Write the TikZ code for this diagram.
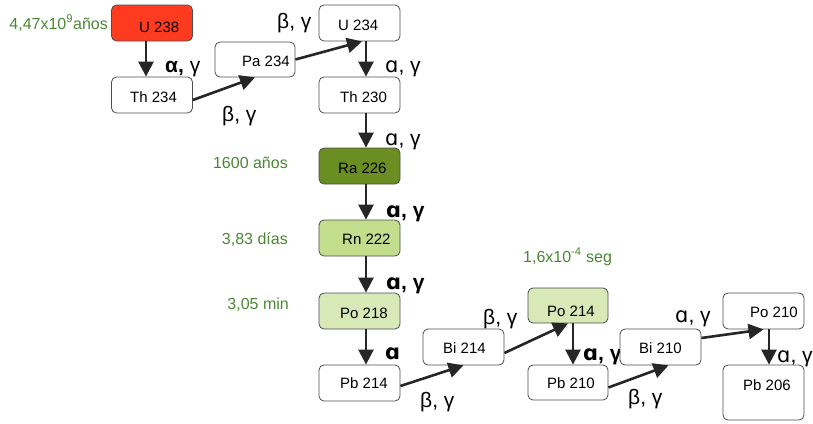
\documentclass[tikz,border=0pt]{standalone}
\usepackage{fontspec}
\setmainfont{Liberation Sans}
\newfontfamily\alphafont{DejaVu Sans}
\usetikzlibrary{arrows.meta,calc}
\definecolor{boxline}{HTML}{4D4D4D}
\definecolor{arrowgray}{HTML}{262626}
\definecolor{halflife}{HTML}{4A8734}
\definecolor{uranred}{HTML}{FF3B1F}
\definecolor{radiumgreen}{HTML}{6B8E23}
\definecolor{radongreen}{HTML}{C2DE8C}
\definecolor{palegreen}{HTML}{D6E9B6}
% Latin alpha taken from DejaVu Sans
\newcommand{\la}{{\alphafont ɑ}}
\begin{document}
\begin{tikzpicture}[x=1pt,y=-1pt,
  nuclide/.style={draw=boxline, line width=0.8pt, rounded corners=5pt, fill=white,
    inner sep=0pt, minimum width=81pt, minimum height=36pt},
  nuctext/.style={anchor=base west, inner sep=0pt, font=\fontsize{15}{18}\selectfont},
  decay/.style={anchor=base west, inner sep=0pt, font=\fontsize{21}{24}\selectfont},
  bolddecay/.style={decay, font=\fontsize{21}{24}\selectfont\bfseries},
  life/.style={inner sep=0pt, text=halflife, font=\fontsize{16}{19}\selectfont},
  chain/.style={draw=arrowgray, line width=2.6pt, -{Triangle[length=15pt,width=15pt]}}
]
\useasboundingbox (0,0) rectangle (813,423);

% decay mode labels (drawn first, boxes may overlap them)
\node[decay] (l1) at (165,72) {\textbf{α,} γ};
\node[decay] (l2) at (277,28) {β, γ};
\node[decay] (l3) at (222,121) {β, γ};
\node[decay] (l4) at (385,72) {\la, γ};
\node[decay] (l5) at (385,145) {\la, γ};
\node[bolddecay] (l6) at (386,217) {{\bfseries\la}, γ};
\node[bolddecay] (l7) at (386,289) {{\bfseries\la}, γ};
\node[bolddecay] (l8) at (385,359) {{\bfseries\la}};
\node[decay] (l9) at (420,407) {β, γ};
\node[decay] (l10) at (483,324) {β, γ};
\node[bolddecay] (l11) at (583,360) {{\bfseries\la}, γ};
\node[decay] (l12) at (628,404) {β, γ};
\node[decay] (l13) at (675,322) {\la, γ};
\node[decay] (l14) at (777,362) {\la, γ};

% half-lives
\node[life, anchor=base east] (h1) at (108,29) {4,47x10\textsuperscript{9}años};
\node[life, anchor=base east] (h2) at (288,168) {1600 años};
\node[life, anchor=base east] (h3) at (288,244) {3,83 días};
\node[life, anchor=base east] (h4) at (289,309) {3,05 min};
\node[life, anchor=base west] (h5) at (523,262) {1,6x10\textsuperscript{-4} seg};

% nuclide boxes
\node[nuclide, fill=uranred] (u238) at (152,23) {};
\node[nuclide] (th234) at (152,95) {};
\node[nuclide, minimum width=80pt, minimum height=35pt] (pa234) at (255,59.5) {};
\node[nuclide] (u234) at (359.5,23) {};
\node[nuclide] (th230) at (359.5,95) {};
\node[nuclide, fill=radiumgreen] (ra226) at (359.5,166) {};
\node[nuclide, fill=radongreen] (rn222) at (359.5,238) {};
\node[nuclide, fill=palegreen] (po218) at (359.5,311) {};
\node[nuclide] (pb214) at (359.5,383) {};
\node[nuclide] (bi214) at (463.5,347) {};
\node[nuclide, fill=palegreen, minimum width=80pt, minimum height=35pt] (po214) at (568,305.5) {};
\node[nuclide, minimum width=80pt, minimum height=35pt] (pb210) at (568,382.5) {};
\node[nuclide] (bi210) at (660.5,347) {};
\node[nuclide] (po210) at (763.5,311) {};
\node[nuclide, minimum height=55pt] (pb206) at (763.5,392.5) {};

% nuclide names
\node[nuctext] (u238t) at (139,32) {U 238};
\node[nuctext] (th234t) at (130,102) {Th 234};
\node[nuctext] (pa234t) at (242,66) {Pa 234};
\node[nuctext] (u234t) at (338,30) {U 234};
\node[nuctext] (th230t) at (340,102) {Th 230};
\node[nuctext] (ra226t) at (338,173) {Ra 226};
\node[nuctext] (rn222t) at (342,244) {Rn 222};
\node[nuctext] (po218t) at (340,318) {Po 218};
\node[nuctext] (pb214t) at (340,388) {Pb 214};
\node[nuctext] (bi214t) at (443,353) {Bi 214};
\node[nuctext] (po214t) at (547,316) {Po 214};
\node[nuctext] (pb210t) at (547,388) {Pb 210};
\node[nuctext] (bi210t) at (639,353) {Bi 210};
\node[nuctext] (po210t) at (750,317) {Po 210};
\node[nuctext] (pb206t) at (743,390) {Pb 206};

% decay chain
\draw[chain] ($(u238.south)+(-6,0)$) -- ($(th234.north)+(-6,0)$);
\draw[chain] ($(th234.east)+(0,5)$) -- (pa234.south);
\draw[chain] (pa234.east) -- ($(u234.south)+(2.5,0)$);
\draw[chain] ($(u234.south)+(6.5,0)$) -- ($(th230.north)+(6.5,0)$);
\draw[chain] ($(th230.south)+(6.5,0)$) -- ($(ra226.north)+(6.5,0)$);
\draw[chain] ($(ra226.south)+(6.5,0)$) -- ($(rn222.north)+(6.5,0)$);
\draw[chain] ($(rn222.south)+(6.5,0)$) -- ($(po218.north)+(6.5,0)$);
\draw[chain] ($(po218.south)+(6.5,0)$) -- ($(pb214.north)+(6.5,0)$);
\draw[chain] ($(pb214.east)+(0,3)$) -- (bi214.south);
\draw[chain] ($(bi214.east)+(0,6)$) -- (po214.south);
\draw[chain] ($(po214.south)+(5,0)$) -- ($(pb210.north)+(5,0)$);
\draw[chain] ($(pb210.east)+(0,5)$) -- ($(bi210.south)+(8,0)$);
\draw[chain] ($(bi210.east)+(0,-9)$) -- (po210.south);
\draw[chain] ($(po210.south)+(5.5,0)$) -- ($(pb206.north)+(5.5,0)$);
\end{tikzpicture}
\end{document}
